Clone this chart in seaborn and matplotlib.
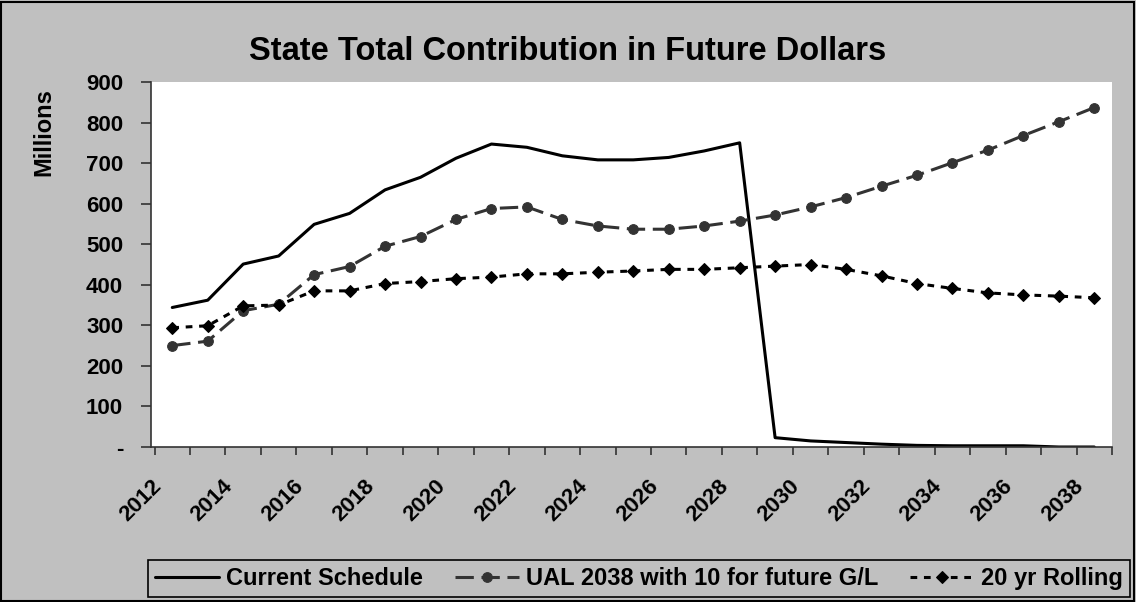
import numpy as np
import pandas as pd
import seaborn as sns
import matplotlib.pyplot as plt
from matplotlib.patches import Rectangle

# data (millions), one value per year
years = list(range(2012, 2039))
current_schedule = [344, 362, 451, 471, 549, 576, 634, 665, 712, 747, 739, 718, 708, 708,
                    714, 730, 750, 23, 15, 11, 7, 4, 3, 3, 3, 0, 0]
ual_2038 = [250, 261, 336, 352, 425, 445, 495, 519, 561, 588, 592, 561, 545, 537,
            537, 545, 557, 572, 592, 615, 643, 670, 701, 732, 768, 802, 837]
rolling_20yr = [294, 299, 348, 350, 385, 385, 403, 408, 415, 419, 427, 427, 431, 434,
                438, 438, 442, 446, 450, 438, 422, 403, 391, 380, 375, 372, 368]

series_names = ["Current Schedule", "UAL 2038 with 10 for future G/L", "20 yr Rolling"]
y_ticks = list(range(0, 1000, 100))
y_labels = ["-"] + [str(v) for v in y_ticks[1:]]
x_labels = [str(y) for y in years[::2]]

bg = "#C0C0C0"

sns.set_style("white")
plt.rcParams['font.family'] = ['Liberation Sans', 'DejaVu Sans']
plt.rcParams['font.weight'] = 'bold'
plt.rcParams['text.color'] = 'black'
plt.rcParams['xtick.color'] = 'black'
plt.rcParams['ytick.color'] = 'black'

fig = plt.figure(figsize=(11.36, 6.02), dpi=100, facecolor=bg)
ax = fig.add_axes([151 / 1136, 1 - 447 / 602, (1112 - 151) / 1136, (447 - 82) / 602])
ax.set_facecolor("white")

sns.lineplot(x=years, y=current_schedule, ax=ax, color="black", linewidth=2.2,
             label=series_names[0])
sns.lineplot(x=years, y=ual_2038, ax=ax, color="#333333", linewidth=2.2,
             linestyle=(0, (6, 2.5)), marker="o", markersize=7,
             markeredgecolor="#333333", label=series_names[1])
sns.lineplot(x=years, y=rolling_20yr, ax=ax, color="black", linewidth=2.2,
             linestyle=(0, (2.2, 2.2)), marker="D", markersize=6.5,
             markeredgecolor="black", label=series_names[2])

ax.set_xlim(years[0] - 0.5, years[-1] + 0.5)
ax.set_ylim(0, 900)
ax.set_yticks(y_ticks)
ax.set_yticklabels(y_labels, fontsize=16, fontweight="bold")
# label anchors sit a bit left of each category centre (the rotated text ends there)
ax.set_xticks([y - 0.6 for y in years[::2]])
ax.set_xticklabels(x_labels, fontsize=16, fontweight="bold", rotation=45,
                   ha="right", rotation_mode="anchor")
ax.set_xticks([y - 0.5 for y in years] + [years[-1] + 0.5], minor=True)
ax.tick_params(axis="x", which="major", length=0, pad=21)
ax.tick_params(axis="x", which="minor", length=6, width=1.2, color="#333333",
               direction="out", bottom=True)
ax.tick_params(axis="y", length=7, width=1.2, color="#333333", direction="out",
               left=True, pad=13)
ax.set_xlabel("")
ax.set_ylabel("")

for side in ["top", "right"]:
    ax.spines[side].set_visible(False)
for side in ["left", "bottom"]:
    ax.spines[side].set_color("#333333")
    ax.spines[side].set_linewidth(1.2)

ax.get_legend().remove()
handles, labels = ax.get_legend_handles_labels()
leg = fig.legend(handles, labels, loc="lower center", bbox_to_anchor=(0.5625, 5 / 602),
                 borderaxespad=0, ncol=3, frameon=True, fancybox=False, edgecolor="black",
                 facecolor=bg, framealpha=1, handlelength=2.7, handletextpad=0.3,
                 columnspacing=1.35, borderpad=0.3,
                 prop={"weight": "bold", "size": 17})
leg.get_frame().set_linewidth(1.2)

fig.suptitle("State Total Contribution in Future Dollars", y=0.94,
             fontsize=23.5, fontweight="bold", x=0.5)
fig.text(0.039, 1 - 132 / 602, "Millions", rotation=90, ha="center", va="center",
         fontsize=17, fontweight="bold")

fig.patches.append(Rectangle((0.001, 0.002), 0.997, 0.995, transform=fig.transFigure,
                             fill=False, edgecolor="black", linewidth=1.5))

fig.savefig("out.png", dpi=100, facecolor=bg)
